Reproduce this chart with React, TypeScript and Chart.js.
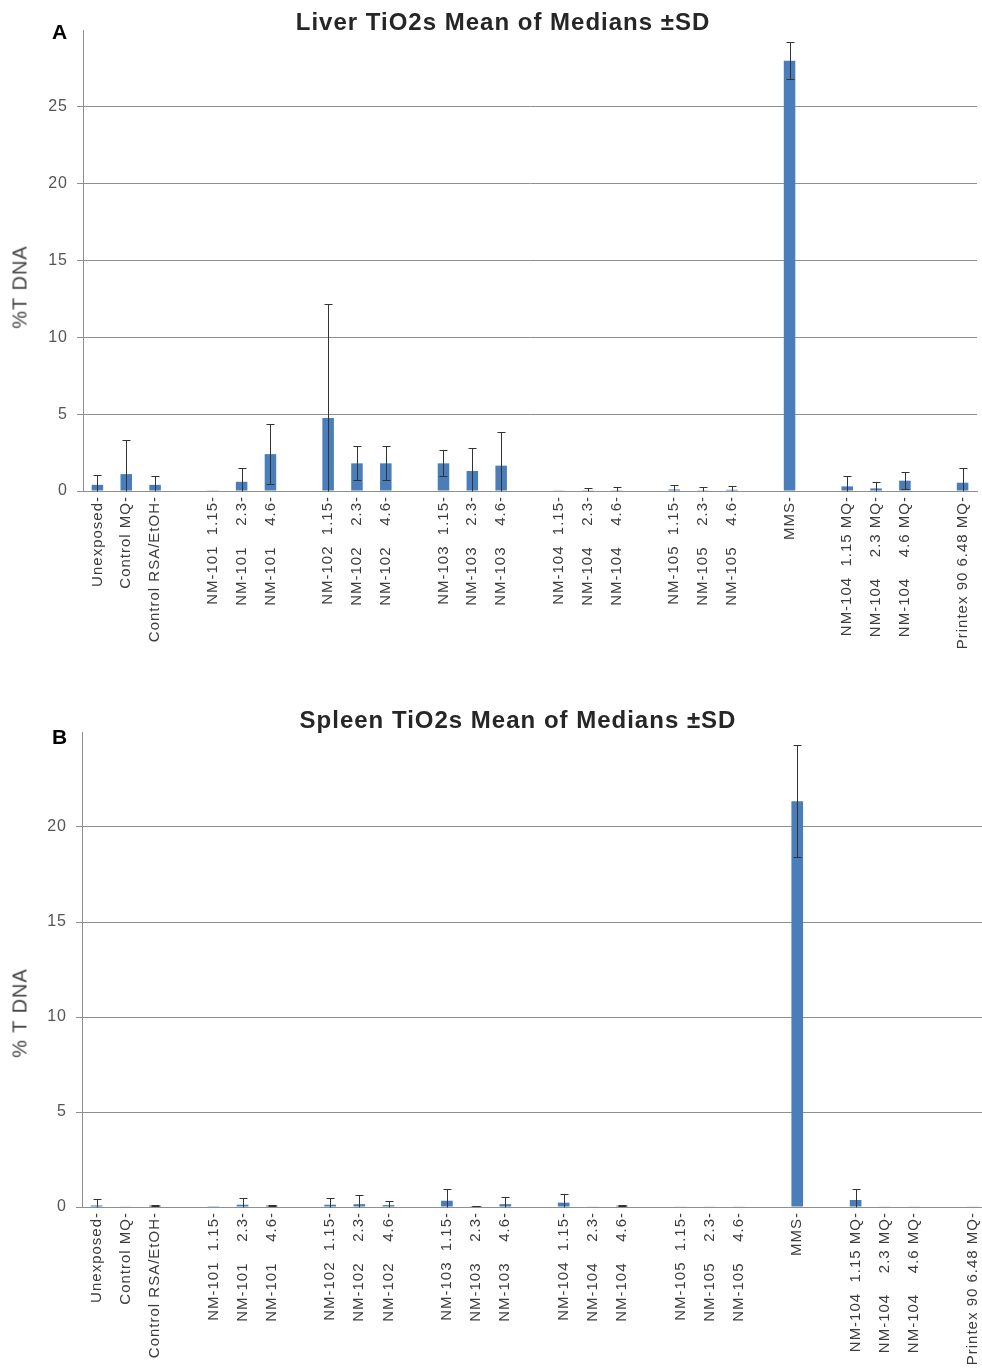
import React, { useEffect, useRef } from "react";
import { Chart, registerables } from "chart.js";

Chart.register(...registerables);

// ---------- data ----------
const categories: string[] = [
  "Unexposed-", "Control MQ-", "Control RSA/EtOH-", "",
  "NM-101  1.15-", "NM-101    2.3-", "NM-101    4.6-", "",
  "NM-102  1.15-", "NM-102    2.3-", "NM-102    4.6-", "",
  "NM-103  1.15-", "NM-103    2.3-", "NM-103    4.6-", "",
  "NM-104  1.15-", "NM-104    2.3-", "NM-104    4.6-", "",
  "NM-105  1.15-", "NM-105    2.3-", "NM-105    4.6-", "",
  "MMS-", "",
  "NM-104  1.15 MQ-", "NM-104    2.3 MQ-", "NM-104    4.6 MQ-", "",
  "Printex 90 6.48 MQ-",
];

const liverMeans: (number | null)[] = [
  0.4, 1.1, 0.4, null,
  0.02, 0.6, 2.4, null,
  4.75, 1.8, 1.8, null,
  1.8, 1.3, 1.65, null,
  0.02, 0.05, 0.05, null,
  0.1, 0.05, 0.08, null,
  28.0, null,
  0.3, 0.17, 0.67, null,
  0.54,
];
const liverSD: (number | null)[] = [
  0.65, 2.2, 0.55, null,
  0, 0.9, 1.95, null,
  7.4, 1.1, 1.1, null,
  0.85, 1.5, 2.2, null,
  0, 0.15, 0.2, null,
  0.3, 0.18, 0.24, null,
  1.2, null,
  0.65, 0.4, 0.56, null,
  0.95,
];

const spleenMeans: (number | null)[] = [
  0.08, 0.02, 0.08, null,
  0.01, 0.12, 0.08, null,
  0.12, 0.15, 0.1, null,
  0.33, 0.05, 0.15, null,
  0.23, 0.02, 0.07, null,
  0.02, 0.02, 0.02, null,
  21.36, null,
  0.37, 0.02, 0.02, null,
  0.02,
];
const spleenSD: (number | null)[] = [
  0.32, 0, 0.02, null,
  0, 0.37, 0.03, null,
  0.38, 0.48, 0.21, null,
  0.6, 0.02, 0.37, null,
  0.47, 0, 0.03, null,
  0, 0, 0, null,
  2.95, null,
  0.56, 0, 0, null,
  0,
];

const liverTitle = "Liver TiO2s Mean of Medians \u00B1SD";
const spleenTitle = "Spleen TiO2s Mean of Medians \u00B1SD";
const liverYTitle = "%T DNA";
const spleenYTitle = "% T DNA";

// ---------- styles ----------
const BAR = "#4a7ebb";
const GRID = "#8f8f8f";
const TXT = "#3c3c3c";
const ERR = "#333333";
const FONT = "'Liberation Sans', Arial, sans-serif";

type PanelProps = {
  values: (number | null)[];
  sds: (number | null)[];
  max: number;
  width: number;
  height: number;
  padTop: number;
  padRight: number;
  yWidth: number;
  xHeight: number;
};

function BarPanel(p: PanelProps) {
  const ref = useRef<HTMLCanvasElement>(null);
  useEffect(() => {
    const canvas = ref.current;
    if (!canvas) return;
    const spacing = {
      id: "spacing",
      beforeDraw(chart: any) {
        chart.ctx.letterSpacing = "1px";
      },
      beforeDatasetsDraw(chart: any) {
        chart.ctx.letterSpacing = "0px";
      },
    };
    const errorBars = {
      id: "errorBars",
      afterDatasetsDraw(chart: any) {
        const ctx = chart.ctx;
        const meta = chart.getDatasetMeta(0);
        const ys = chart.scales.y;
        ctx.save();
        ctx.strokeStyle = ERR;
        ctx.lineWidth = 1;
        p.values.forEach((v, i) => {
          const sd = p.sds[i];
          if (v == null || sd == null || sd <= 0) return;
          const el = meta.data[i];
          if (!el) return;
          const x = Math.round(el.x) + 0.5;
          const yTop = Math.round(ys.getPixelForValue(v + sd)) + 0.5;
          const yBot = Math.round(ys.getPixelForValue(Math.max(0, v - sd))) + 0.5;
          ctx.beginPath();
          ctx.moveTo(x, yBot);
          ctx.lineTo(x, yTop);
          ctx.moveTo(x - 4, yTop);
          ctx.lineTo(x + 4, yTop);
          if (v - sd > 0) {
            ctx.moveTo(x - 4, yBot);
            ctx.lineTo(x + 4, yBot);
          }
          ctx.stroke();
        });
        ctx.restore();
      },
    };
    const chart = new Chart(canvas, {
      type: "bar",
      data: {
        labels: categories,
        datasets: [
          {
            data: p.values as any,
            backgroundColor: BAR,
            borderWidth: 0,
            barPercentage: 0.4,
            categoryPercentage: 1,
          },
        ],
      },
      options: {
        responsive: false,
        animation: false,
        devicePixelRatio: 1,
        layout: { padding: { left: 0, right: p.padRight, top: p.padTop, bottom: 0 } },
        plugins: {
          legend: { display: false },
          title: { display: false },
          tooltip: { enabled: false },
        },
        scales: {
          x: {
            grid: { display: false, drawTicks: false },
            border: { display: true, color: GRID, width: 1 },
            ticks: {
              autoSkip: false,
              minRotation: 90,
              maxRotation: 90,
              padding: 5,
              color: TXT,
              font: { family: FONT, size: 15 },
            },
            afterFit: (s: any) => {
              s.height = p.xHeight;
              s.paddingLeft = 0;
              s.paddingRight = 0;
            },
          },
          y: {
            min: 0,
            max: p.max,
            ticks: {
              stepSize: 5,
              padding: 9,
              color: "#555555",
              font: { family: FONT, size: 16 },
            },
            grid: { color: GRID, lineWidth: 1, drawTicks: true, tickLength: 6 },
            border: { display: true, color: GRID, width: 1 },
            afterBuildTicks: (s: any) => {
              s.ticks = s.ticks.filter((t: any) => t.value < p.max);
            },
            afterFit: (s: any) => {
              s.width = p.yWidth;
              s.paddingTop = 0;
              s.paddingBottom = 0;
            },
          },
        },
      } as any,
      plugins: [spacing, errorBars],
    });
    return () => chart.destroy();
  }, []);
  return (
    <canvas
      ref={ref}
      width={p.width}
      height={p.height}
      style={{ display: "block", width: p.width, height: p.height }}
    />
  );
}

const abs = (extra: React.CSSProperties): React.CSSProperties => ({
  position: "absolute",
  whiteSpace: "pre",
  ...extra,
});

export default function App() {
  return (
    <div
      style={{
        position: "absolute",
        left: 0,
        top: 0,
        width: 982,
        height: 1370,
        overflow: "hidden",
        background: "#ffffff",
      }}
    >
      {/* Panel A */}
      <div style={abs({ left: 0, top: 0 })}>
        <BarPanel
          values={liverMeans}
          sds={liverSD}
          max={30}
          width={982}
          height={670}
          padTop={30}
          padRight={5}
          yWidth={83}
          xHeight={179}
        />
      </div>
      <div
        style={abs({
          left: 0,
          top: 8,
          width: 1006,
          textAlign: "center",
          font: `bold 24px ${FONT}`,
          lineHeight: "28px",
          letterSpacing: "1px",
          color: "#262626",
        })}
      >
        {liverTitle}
      </div>
      <div style={abs({ left: 52, top: 21, font: `bold 21px ${FONT}`, lineHeight: "21px", color: "#000" })}>A</div>
      <div
        style={abs({
          left: 20,
          top: 287,
          transform: "translate(-50%, -50%) rotate(-90deg)",
          font: `20px ${FONT}`,
          letterSpacing: "1px",
          color: "#444444",
        })}
      >
        {liverYTitle}
      </div>

      {/* Panel B */}
      <div style={abs({ left: 0, top: 700 })}>
        <BarPanel
          values={spleenMeans}
          sds={spleenSD}
          max={25}
          width={1000}
          height={680}
          padTop={32}
          padRight={13}
          yWidth={82}
          xHeight={173}
        />
      </div>
      <div
        style={abs({
          left: 0,
          top: 706,
          width: 1036,
          textAlign: "center",
          font: `bold 24px ${FONT}`,
          lineHeight: "28px",
          letterSpacing: "1px",
          color: "#262626",
        })}
      >
        {spleenTitle}
      </div>
      <div style={abs({ left: 52, top: 726, font: `bold 21px ${FONT}`, lineHeight: "21px", color: "#000" })}>B</div>
      <div
        style={abs({
          left: 20,
          top: 1013,
          transform: "translate(-50%, -50%) rotate(-90deg)",
          font: `20px ${FONT}`,
          letterSpacing: "1px",
          color: "#444444",
        })}
      >
        {spleenYTitle}
      </div>
    </div>
  );
}
